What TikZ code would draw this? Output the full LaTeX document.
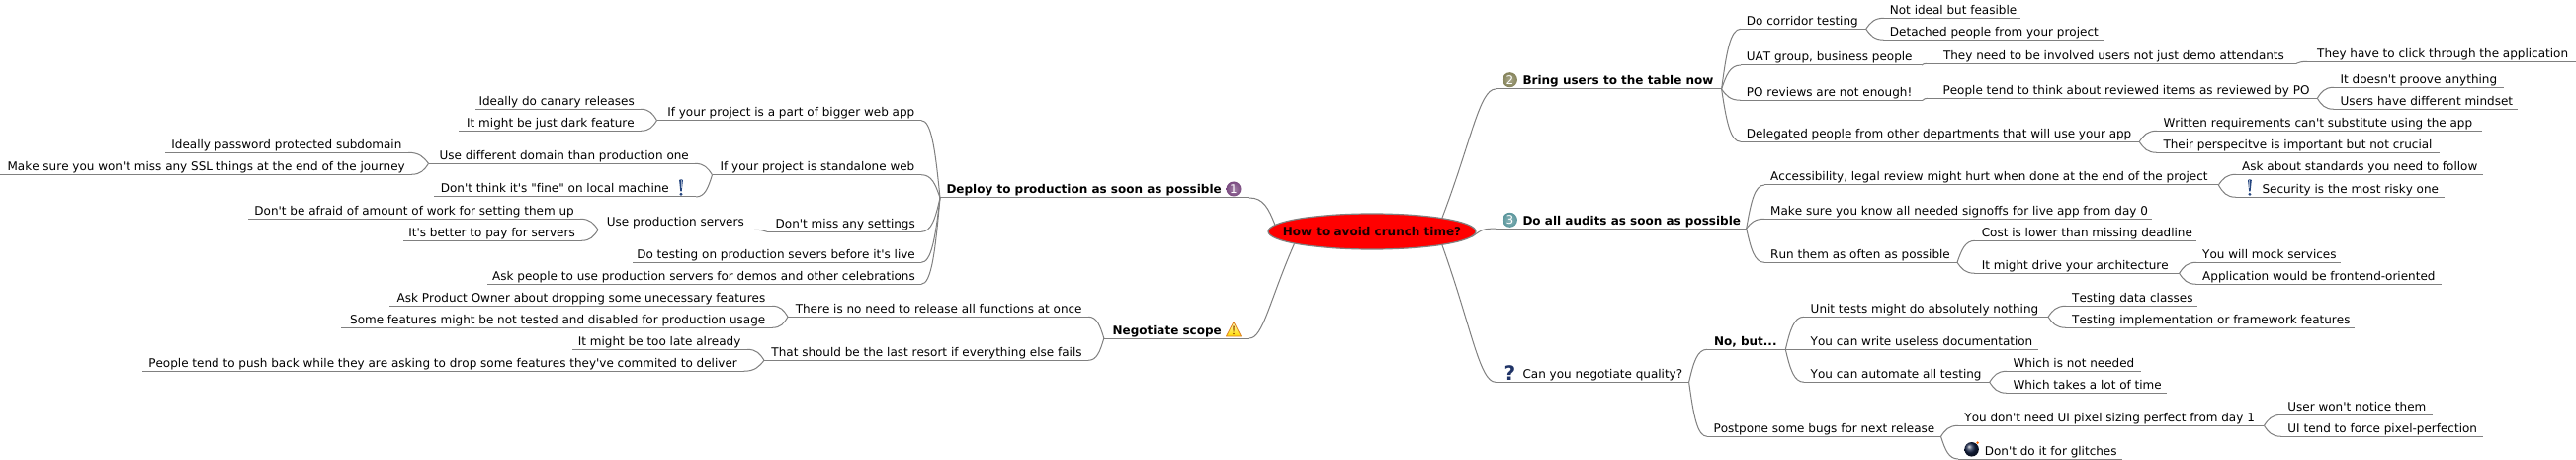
\documentclass[tikz,border=0pt]{standalone}
\usepackage{fontspec}
\usetikzlibrary{calc,shapes.geometric}
\newfontfamily\djv[Ligatures=NoCommon,Kerning=Off]{DejaVu Sans}
\definecolor{edgegray}{HTML}{808080}
\definecolor{bluemark}{HTML}{24457F}
\definecolor{quest}{HTML}{1F3366}
\definecolor{ballone}{HTML}{7A4A80}
\definecolor{balltwo}{HTML}{85835A}
\definecolor{ballthree}{HTML}{5A969C}
\tikzset{
  lbl/.style={font=\djv\fontsize{12}{14}\selectfont,inner sep=0pt,text=black},
  edge/.style={draw=edgegray,line width=1pt},
  rootnode/.style={ellipse,draw=edgegray,line width=1.2pt,fill=red,minimum width=210pt,minimum height=36pt,inner sep=0pt,font=\djv\bfseries\fontsize{12}{14}\selectfont,text=black!90!red},
  numball/.style={circle,minimum size=15pt,inner sep=0pt,text=white,font=\djv\fontsize{12}{12}\selectfont},
}
\newcommand\itL[6]{% name xl xr y textend text
  \coordinate (#1-l) at (#2,#4);\coordinate (#1-r) at (#3,#4);
  \node[lbl,anchor=base east] (#1) at (#5,#4-4) {#6};
  \draw[edge] (#1-l) -- (#1-r);}
\newcommand\itR[6]{% name xl xr y textstart text
  \coordinate (#1-l) at (#2,#4);\coordinate (#1-r) at (#3,#4);
  \node[lbl,anchor=base west] (#1) at (#5,#4-4) {#6};
  \draw[edge] (#1-l) -- (#1-r);}
\newcommand\cn[2]{\draw[edge] let \p1=(#1),\p2=(#2),\n1={\x2-\x1},\n2={\y2-\y1} in
  (\p1) .. controls (\x1+0.25*\n1,\y1+0.6*\n2) and (\x1+0.45*\n1,\y2) .. (\p2);}
\newcommand\cnroot[2]{\draw[edge] let \p1=(#1),\p2=(#2),\n1={\x2-\x1},\n2={\y2-\y1} in
  (\p1) .. controls (\x1+0.55*\n1,\y1+0.6*\n2) and (\x1+0.7*\n1,\y2) .. (\p2);}
\newcommand\excl[3]{% name x y
  \node[inner sep=0pt,minimum width=5pt,minimum height=16pt] (#1) at (#2,#3) {};
  \fill[bluemark] (#2-1.9,#3-8) .. controls (#2-1,#3-9) and (#2+1,#3-9) .. (#2+1.9,#3-8) -- (#2+0.7,#3+3.5) -- (#2-0.7,#3+3.5) -- cycle;
  \fill[bluemark!45!white] (#2-0.5,#3-7.5) rectangle (#2+0.2,#3+0.5);
  \fill[bluemark] (#2,#3+6.3) circle (1.6pt);}
\begin{document}
\begin{tikzpicture}[x=1pt,y=-1pt]
\path[use as bounding box,fill=white] (0,0) rectangle (2606,465);
\node[rootnode] (root) at (1388,234) {\raisebox{1pt}{\makebox[0pt]{How to avoid crunch time?}}};
% ---- Deploy
\itL{dep}{951}{1264}{200}{1236}{\bfseries Deploy to production as soon as possible}
\node[numball,inner color=ballone!70!white,outer color=ballone] (ic1) at (1248,191) {1};
\itL{pa}{664.5}{932}{121.7}{925.5}{If your project is a part of bigger web app}
\itL{pa1}{481}{648}{110.3}{642}{Ideally do canary releases}
\itL{pa2}{464}{648}{132.3}{642}{It might be just dark feature}
\itL{sa}{720.5}{932}{176.7}{925.5}{If your project is standalone web}
\itL{sa1}{433.5}{703}{165.3}{697}{Use different domain than production one}
\itL{sa11}{167}{413}{154.3}{406.6}{Ideally password protected subdomain}
\itL{sa12}{0}{416}{176.3}{410}{Make sure you won't miss any SSL things at the end of the journey}
\itL{sa2}{439}{704}{199}{677}{Don't think it's "fine" on local machine}
\excl{ic4}{689}{190}
\itL{ms}{776}{932}{234.3}{926}{Don't miss any settings}
\itL{up}{605}{763}{232.3}{753}{Use production servers}
\itL{up1}{251}{587}{221.3}{581}{Don't be afraid of amount of work for setting them up}
\itL{up2}{408}{588}{243.3}{582}{It's better to pay for servers}
\itL{dt}{640}{932}{265.3}{926}{Do testing on production severs before it's live}
\itL{ap}{493}{932}{287.3}{926}{Ask people to use production servers for demos and other celebrations}
\cn{root.176}{dep-r}
\cn{dep-l}{pa-r}\cn{dep-l}{sa-r}\cn{dep-l}{ms-r}\cn{dep-l}{dt-r}\cn{dep-l}{ap-r}
\cn{pa-l}{pa1-r}\cn{pa-l}{pa2-r}
\cn{sa-l}{sa1-r}\cn{sa-l}{sa2-r}
\cn{sa1-l}{sa11-r}\cn{sa1-l}{sa12-r}
\cn{ms-l}{up-r}
\cn{up-l}{up1-r}\cn{up-l}{up2-r}
% ---- Negotiate scope
\itL{neg}{1116.8}{1264}{342}{1236}{\bfseries Negotiate scope}
\node[inner sep=0pt,minimum size=15pt] (ic5) at (1248,333) {};
\shade[top color=yellow!25!white,bottom color=yellow!70!orange,draw=orange!75!gray,line width=0.8pt,line join=round] (1248,325.5) -- (1255.5,340) -- (1240.5,340) -- cycle;
\fill[orange!60!black] (1247.2,329.5) -- (1248.8,329.5) -- (1248.4,335.5) -- (1247.6,335.5) -- cycle (1248,337.5) circle (0.9pt);
\itL{nn}{797}{1101}{320.3}{1094.8}{There is no need to release all functions at once}
\itL{nn1}{394}{781}{309.3}{774.5}{Ask Product Owner about dropping some unecessary features}
\itL{nn2}{345}{781}{331.3}{774.5}{Some features might be not tested and disabled for production usage}
\itL{ls}{773}{1101}{364.3}{1094.8}{That should be the last resort if everything else fails}
\itL{ls1}{579}{756}{353.3}{749.6}{It might be too late already}
\itL{ls2}{144}{752}{375.3}{746}{People tend to push back while they are asking to drop some features they've commited to deliver}
\cnroot{root.-171.7}{neg-r}
\cn{neg-l}{nn-r}\cn{neg-l}{ls-r}
\cn{nn-l}{nn1-r}\cn{nn-l}{nn2-r}
\cn{ls-l}{ls1-r}\cn{ls-l}{ls2-r}
% ---- Bring users
\itR{br}{1513}{1741.6}{90}{1540.3}{\bfseries Bring users to the table now}
\node[numball,inner color=balltwo!70!white,outer color=balltwo] (ic2) at (1527.4,80.7) {2};
\itR{co}{1761}{1887.7}{29.3}{1766.7}{Do corridor testing}
\itR{co1}{1906}{2043.8}{18.3}{1911.7}{Not ideal but feasible}
\itR{co2}{1906}{2127.7}{40.3}{1911.7}{Detached people from your project}
\itR{ua}{1761}{1944}{66}{1766.7}{UAT group, business people}
\itR{ua1}{1949}{2323}{64.3}{1965.8}{They need to be involved users not just demo attendants}
\itR{ua2}{2334}{2606}{62.3}{2344}{They have to click through the application}
\itR{po}{1761}{1945}{101.3}{1766.7}{PO reviews are not enough!}
\itR{po1}{1950}{2344.3}{99.3}{1965.4}{People tend to think about reviewed items as reviewed by PO}
\itR{po11}{2361}{2532.6}{88.3}{2367.4}{It doesn't proove anything}
\itR{po12}{2361}{2546.8}{110.3}{2367.4}{Users have different mindset}
\itR{de}{1761}{2164.2}{143.3}{1766.7}{Delegated people from other departments that will use your app}
\itR{de1}{2182}{2510.6}{132.3}{2188.3}{Written requirements can't substitute using the app}
\itR{de2}{2182}{2467.7}{154.3}{2188.3}{Their perspecitve is important but not crucial}
\cnroot{root.11.1}{br-l}
\cn{br-r}{co-l}\cn{br-r}{ua-l}\cn{br-r}{po-l}\cn{br-r}{de-l}
\cn{co-r}{co1-l}\cn{co-r}{co2-l}
\cn{ua-r}{ua1-l}\cn{ua1-r}{ua2-l}
\cn{po-r}{po1-l}\cn{po1-r}{po11-l}\cn{po1-r}{po12-l}
\cn{de-r}{de1-l}\cn{de-r}{de2-l}
% ---- Audits
\itR{au}{1513}{1766.7}{231}{1540.3}{\bfseries Do all audits as soon as possible}
\node[numball,inner color=ballthree!70!white,outer color=ballthree] (ic3) at (1527.4,222.3) {3};
\itR{ac}{1785}{2244.3}{187}{1791}{Accessibility, legal review might hurt when done at the end of the project}
\itR{ac1}{2262}{2511.7}{176.3}{2268}{Ask about standards you need to follow}
\itR{ac2}{2262}{2472.7}{199.3}{2288.3}{Security is the most risky one}
\excl{ic6}{2275.9}{190}
\itR{ms2}{1785}{2176.6}{221.3}{1791}{Make sure you know all needed signoffs for live app from day 0}
\itR{ru}{1785}{1980}{265.3}{1791}{Run them as often as possible}
\itR{ru1}{1998}{2222}{243.3}{2004.6}{Cost is lower than missing deadline}
\itR{ru2}{1998}{2204.6}{276.3}{2004.6}{It might drive your architecture}
\itR{ru21}{2222}{2367.7}{265.3}{2228}{You will mock services}
\itR{ru22}{2222}{2469.5}{287.3}{2228}{Application would be frontend-oriented}
\draw[edge] (root.-3) .. controls (1500,231.5) .. (au-l);
\cn{au-r}{ac-l}\cn{au-r}{ms2-l}\cn{au-r}{ru-l}
\cn{ac-r}{ac1-l}\cn{ac-r}{ac2-l}
\cn{ru-r}{ru1-l}\cn{ru-r}{ru2-l}
\cn{ru2-r}{ru21-l}\cn{ru2-r}{ru22-l}
% ---- Quality
\itR{qu}{1513}{1708.6}{386.3}{1540.3}{Can you negotiate quality?}
\node[inner sep=0pt,font=\djv\bfseries\fontsize{20}{22}\selectfont,text=quest] (ic7) at (1527.4,377.3) {?};
\itR{nb}{1727}{1806.3}{353.3}{1733.8}{\bfseries No, but...}
\itR{un}{1825}{2072}{320.3}{1831.5}{Unit tests might do absolutely nothing}
\itR{un1}{2090}{2222.7}{309.3}{2096}{Testing data classes}
\itR{un2}{2090}{2381.6}{331.3}{2096}{Testing implementation or framework features}
\itR{wr}{1825}{2061.7}{353.3}{1831.5}{You can write useless documentation}
\itR{at}{1825}{2012.7}{386.3}{1831.5}{You can automate all testing}
\itR{at1}{2030}{2165.6}{375.3}{2036.4}{Which is not needed}
\itR{at2}{2030}{2191.5}{397.3}{2036.4}{Which takes a lot of time}
\itR{pp}{1727}{1963.5}{441.3}{1733.4}{Postpone some bugs for next release}
\itR{pi}{1981}{2290.4}{430.3}{1987.2}{You don't need UI pixel sizing perfect from day 1}
\itR{pi1}{2308}{2460.6}{419.3}{2314.2}{User won't notice them}
\itR{pi2}{2308}{2511.7}{441.3}{2314.2}{UI tend to force pixel-perfection}
\itR{gl}{1981}{2146.5}{464}{2007.6}{Don't do it for glitches}
\node[circle,minimum size=14.5pt,inner sep=0pt,ball color=quest!70!black] (ic8) at (1994.6,454.3) {};
\fill[orange!80!red] (2000.6,447.6) circle (1.4pt);
\cnroot{root.-11.5}{qu-l}
\cn{qu-r}{nb-l}\cn{qu-r}{pp-l}
\cn{nb-r}{un-l}\cn{nb-r}{wr-l}\cn{nb-r}{at-l}
\cn{un-r}{un1-l}\cn{un-r}{un2-l}
\cn{at-r}{at1-l}\cn{at-r}{at2-l}
\cn{pp-r}{pi-l}\cn{pp-r}{gl-l}
\cn{pi-r}{pi1-l}\cn{pi-r}{pi2-l}
\end{tikzpicture}
\end{document}
